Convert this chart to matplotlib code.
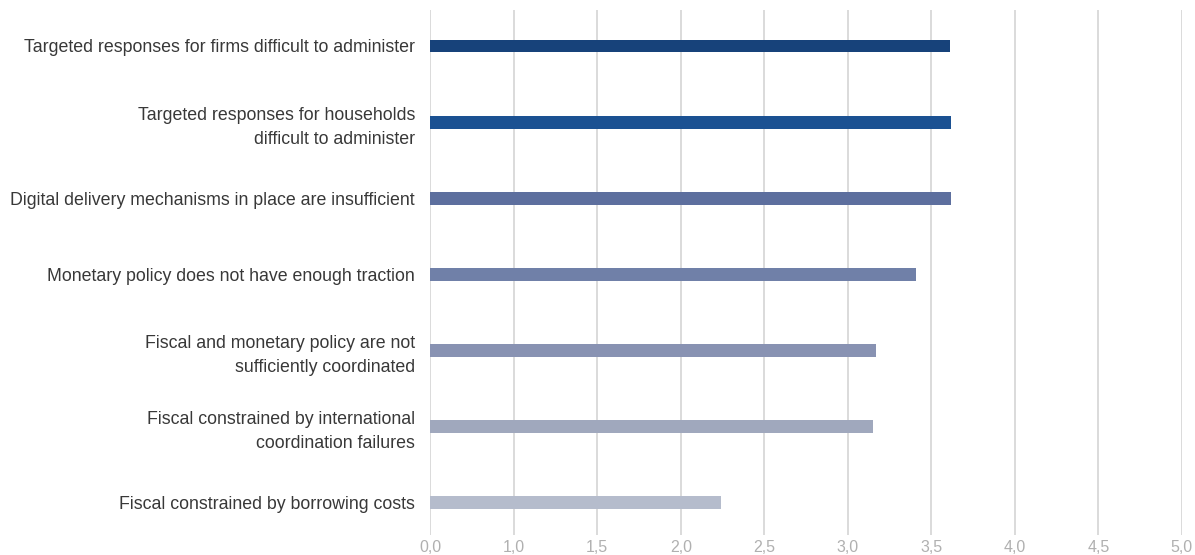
import numpy as np
import matplotlib
matplotlib.use("Agg")
import matplotlib.pyplot as plt

# datos (de arriba hacia abajo)
categorias = [
    "Targeted responses for firms difficult to administer",
    "Targeted responses for households\ndifficult to administer",
    "Digital delivery mechanisms in place are insufficient",
    "Monetary policy does not have enough traction",
    "Fiscal and monetary policy are not\nsufficiently coordinated",
    "Fiscal constrained by international\ncoordination failures",
    "Fiscal constrained by borrowing costs",
]
valores = [3.61, 3.62, 3.62, 3.41, 3.17, 3.15, 2.24]
colores = ["#17427a", "#1b5192", "#5d6f9e", "#7080a8", "#8892b2", "#a0a8bd", "#b5bccc"]

ticks = [0.5, 1.0, 1.5, 2.0, 2.5, 3.0, 3.5, 4.0, 4.5, 5.0]
tick_labels = ["0,0", "1,0", "1,5", "2,0", "2,5", "3,0", "3,5", "4,0", "4,5", "5,0"]

plt.rcParams['font.family'] = ['Liberation Sans', 'DejaVu Sans']

fig = plt.figure(figsize=(11.95, 5.55), dpi=100)
ax = fig.add_axes([0.36, 0.036, 0.629, 0.946])

y = np.arange(len(categorias))
ax.barh(y, valores, height=0.17, color=colores, zorder=3)

ax.set_xlim(0.5, 5.0)
ax.set_ylim(6.427, -0.473)
ax.set_xticks(ticks)
ax.set_xticklabels(tick_labels, color="#b0b0b0", fontsize=11.5)
ax.set_yticks(y)
ax.set_yticklabels(categorias, color="#383838", fontsize=12.8, linespacing=1.5)
ax.tick_params(axis="y", length=0, pad=11)
ax.tick_params(axis="x", length=0, pad=3.5)

ax.grid(axis="x", color="#d4d4d4", linewidth=1.2, zorder=0)
for s in ax.spines.values():
    s.set_visible(False)

fig.savefig("out.png", dpi=100)
